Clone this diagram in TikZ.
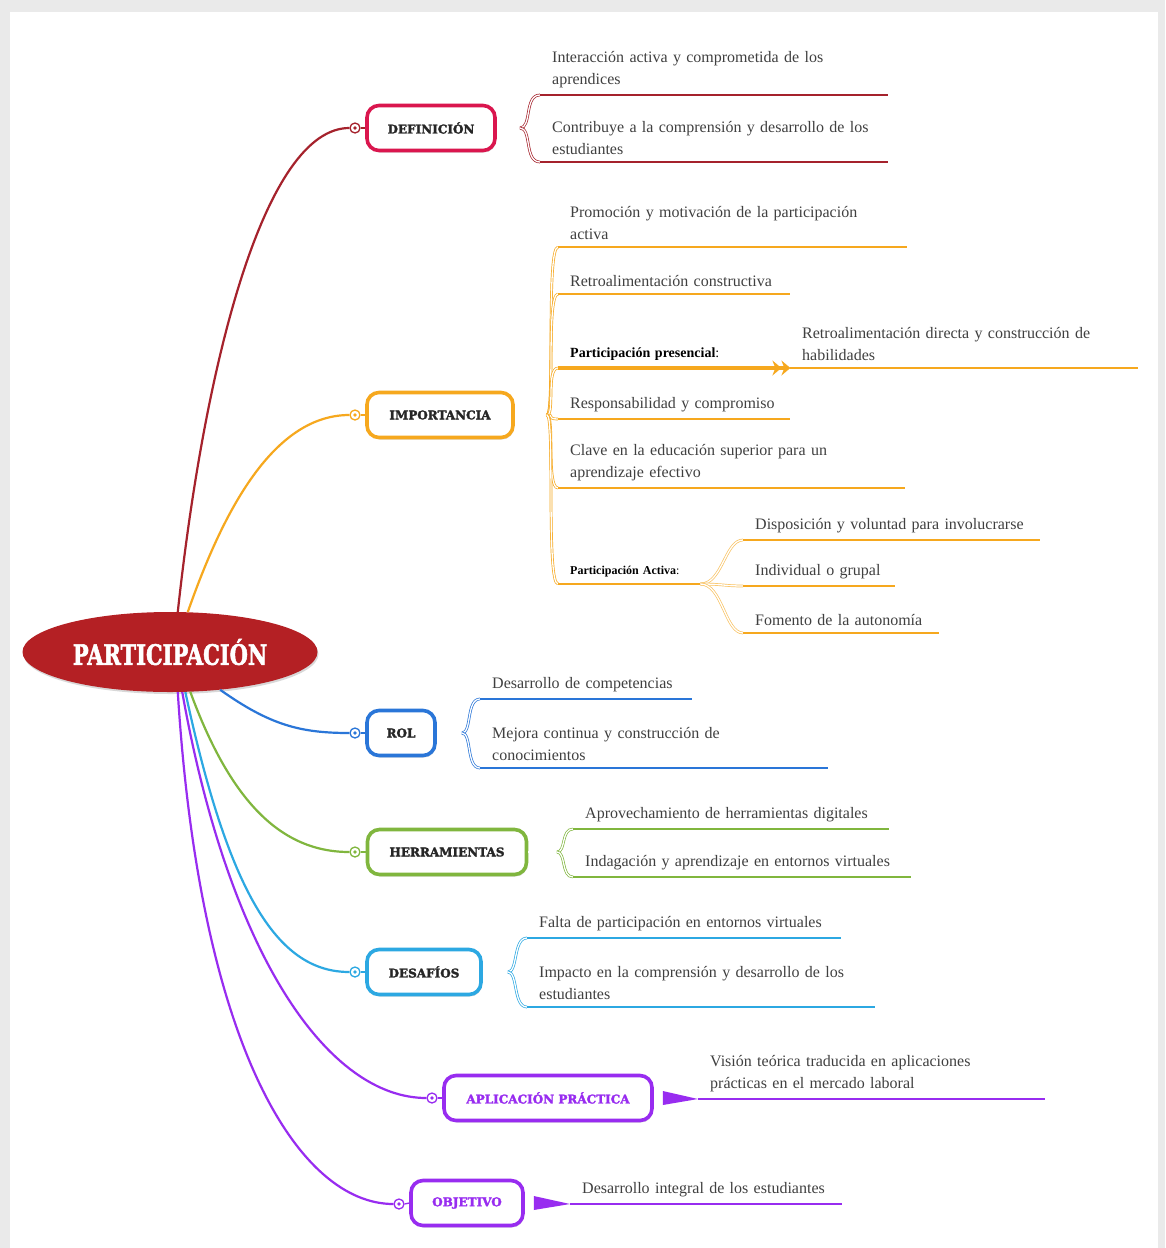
\documentclass[tikz,border=0pt]{standalone}
\usepackage{fontspec}
\setmainfont{Liberation Serif}
\newfontfamily\slabfont{DejaVu Serif}[BoldFeatures={FakeBold=2.2}]
\usetikzlibrary{shapes.geometric,shadows,arrows.meta,positioning}

\definecolor{hubred}{RGB}{180,32,36}
\definecolor{defred}{RGB}{165,34,44}
\definecolor{defpink}{RGB}{218,22,78}
\definecolor{imporange}{RGB}{246,168,30}
\definecolor{rolblue}{RGB}{42,118,216}
\definecolor{herrgreen}{RGB}{128,182,62}
\definecolor{desasky}{RGB}{44,168,226}
\definecolor{aplpurple}{RGB}{152,44,240}
\definecolor{framegray}{RGB}{234,234,234}

\begin{document}
\begin{tikzpicture}[x=1pt, y=-1pt,
    % central topic and first level boxes
    hub/.style={ellipse, fill=hubred, minimum width=295pt, minimum height=80pt, inner sep=0pt,
        text=white, font=\slabfont\bfseries\fontsize{20}{24}\selectfont,
        drop shadow={opacity=0.3, shadow xshift=1pt, shadow yshift=-2pt}},
    branch/.style={draw=#1, line width=3.6pt, rounded corners=12pt, fill=white,
        minimum height=45pt, inner xsep=6pt, text=black!85,
        font=\slabfont\bfseries\fontsize{12}{14}\selectfont,
        drop shadow={opacity=0.3, shadow xshift=1pt, shadow yshift=-2pt}},
    marker/.style={circle, draw=#1, fill=white, line width=1.3pt, minimum size=10pt, inner sep=0pt},
    % connectors
    trunk/.style={draw=#1, line width=2.2pt},
    twin/.style={draw=#1, line width=0.7pt, double=white, double distance=1.3pt},
    uline/.style={draw=#1, line width=2.4pt},
    % leaf texts, #1 = text width
    leaf/.style={anchor=south west, inner xsep=12pt, inner ysep=7pt, align=left,
        text=black!75, font=\fontsize{16}{22}\selectfont, text width=#1}
]
\useasboundingbox (0,0) rectangle (1165,1248);

% Frame
\fill[framegray] (0,0) rectangle (1165,1248);
\fill[white] (10,12) rectangle (1158,1248);

% Central topic
\node[hub] (hub) at (170,652) {\scalebox{1.05}[1.4]{PARTICIPACIÓN}};

% First level boxes
\node[branch=defpink, minimum width=128pt] (def) at (431,128) {DEFINICIÓN};
\node[branch=imporange, minimum width=146pt] (imp) at (440,415) {IMPORTANCIA};
\node[branch=rolblue, minimum width=68pt] (rol) at (401,733) {ROL};
\node[branch=herrgreen, minimum width=159pt] (herr) at (447,852) {HERRAMIENTAS};
\node[branch=desasky, minimum width=114pt] (desa) at (424,972) {DESAFÍOS};
\node[branch=aplpurple, text=aplpurple, minimum width=208pt] (apl) at (548,1098) {APLICACIÓN PRÁCTICA};
\node[branch=aplpurple, text=aplpurple, minimum width=112pt] (obj) at (467,1203) {OBJETIVO};

% Markers in front of the boxes
\node[marker=defred] (defdot) at (355,128) {};
\node[marker=imporange] (impdot) at (355,415) {};
\node[marker=rolblue] (roldot) at (355,733) {};
\node[marker=herrgreen] (herrdot) at (355,852) {};
\node[marker=desasky] (desadot) at (355,972) {};
\node[marker=aplpurple] (apldot) at (432,1098) {};
\node[marker=aplpurple] (objdot) at (399,1204) {};

% Trunks from the central topic
\draw[trunk=defred] (hub.79) .. controls (205,360) and (265,128) .. (defdot.west);
\draw[trunk=imporange] (hub.66) .. controls (220,520) and (270,415) .. (impdot.west);
\draw[trunk=rolblue] (hub.-37) .. controls (270,725) and (300,733) .. (roldot.west);
\draw[trunk=herrgreen] (hub.-63) .. controls (230,800) and (280,852) .. (herrdot.west);
\draw[trunk=desasky] (hub.-69) .. controls (230,900) and (280,972) .. (desadot.west);
\draw[trunk=aplpurple] (hub.-73) .. controls (230,960) and (330,1098) .. (apldot.west);
\draw[trunk=aplpurple] (hub.-79) .. controls (200,1050) and (300,1204) .. (objdot.west);
\foreach \m/\c in {defdot/defred, impdot/imporange, roldot/rolblue, herrdot/herrgreen,
    desadot/desasky, apldot/aplpurple, objdot/aplpurple}
  \fill[\c] (\m) circle (1.8);
\draw[line width=1.3pt, defred] (defdot.east) -- (def.west);
\draw[line width=1.3pt, imporange] (impdot.east) -- (imp.west);
\draw[line width=1.3pt, rolblue] (roldot.east) -- (rol.west);
\draw[line width=1.3pt, herrgreen] (herrdot.east) -- (herr.west);
\draw[line width=1.3pt, desasky] (desadot.east) -- (desa.west);
\draw[line width=1.3pt, aplpurple] (apldot.east) -- (apl.west);
\draw[line width=1.3pt, aplpurple] (objdot.east) -- (obj.west);

% DEFINICION
\coordinate (deffork) at (520,128);
\node[leaf=324pt] (d1) at (540,95) {Interacción activa y comprometida de los\\aprendices};
\node[leaf=324pt] (d2) at (540,162) {Contribuye a la comprensión y desarrollo de los\\estudiantes};
\draw[twin=defred] (def.east) -- (deffork);
\foreach \n in {d1,d2} {
  \draw[twin=defred] (deffork) .. controls +(12,0) and +(-16,0) .. (\n.south west);
  \draw[uline=defred] (\n.south west) -- (\n.south east);
}

% IMPORTANCIA
\coordinate (impfork) at (547,415);
\node[leaf=325pt] (i1) at (558,247) {Promoción y motivación de la participación\\activa};
\node[leaf=208pt] (i2) at (558,294) {Retroalimentación constructiva};
\node[leaf=208pt, font=\fontsize{14}{18}\selectfont, text=black] (i3) at (558,368) {\textbf{Participación presencial}:};
\node[leaf=324pt] (i3b) at (790,368) {Retroalimentación directa y construcción de\\habilidades};
\node[leaf=208pt] (i4) at (558,419) {Responsabilidad y compromiso};
\node[leaf=323pt] (i5) at (558,488) {Clave en la educación superior para un\\aprendizaje efectivo};
\node[leaf=118pt, font=\fontsize{12}{15}\selectfont, text=black] (i6) at (558,584) {\textbf{Participación Activa}:};
\draw[twin=imporange] (imp.east) -- (impfork);
\foreach \n in {i1,i2,i3,i4,i5,i6}
  \draw[twin=imporange] (impfork) .. controls +(8,0) and +(-12,0) .. (\n.south west);
\foreach \n in {i1,i2,i4,i5,i6,i3b}
  \draw[uline=imporange] (\n.south west) -- (\n.south east);
\draw[imporange, line width=3.4pt,
    -{Stealth[length=9pt,width=15pt,inset=3pt] Stealth[length=9pt,width=15pt,inset=3pt]}]
  (i3.south west) -- (i3.south east);

% Participacion activa
\node[leaf=273pt] (a1) at (743,540) {Disposición y voluntad para involucrarse};
\node[leaf=128pt] (a2) at (743,586) {Individual o grupal};
\node[leaf=172pt] (a3) at (743,633) {Fomento de la autonomía};
\foreach \n in {a1,a2,a3} {
  \draw[twin=imporange!70] (i6.south east) .. controls +(22,0) and +(-18,0) .. (\n.south west);
  \draw[uline=imporange] (\n.south west) -- (\n.south east);
}

% ROL
\coordinate (rolfork) at (462,733);
\node[leaf=188pt] (r1) at (480,699) {Desarrollo de competencias};
\node[leaf=324pt] (r2) at (480,768) {Mejora continua y construcción de\\conocimientos};
\draw[twin=rolblue] (rol.east) -- (rolfork);
\foreach \n in {r1,r2} {
  \draw[twin=rolblue] (rolfork) .. controls +(10,0) and +(-14,0) .. (\n.south west);
  \draw[uline=rolblue] (\n.south west) -- (\n.south east);
}

% HERRAMIENTAS
\coordinate (herrfork) at (557,852);
\node[leaf=292pt] (h1) at (573,829) {Aprovechamiento de herramientas digitales};
\node[leaf=314pt] (h2) at (573,877) {Indagación y aprendizaje en entornos virtuales};
\draw[twin=herrgreen] (herr.east) -- (herrfork);
\foreach \n in {h1,h2} {
  \draw[twin=herrgreen] (herrfork) .. controls +(9,0) and +(-12,0) .. (\n.south west);
  \draw[uline=herrgreen] (\n.south west) -- (\n.south east);
}

% DESAFIOS
\coordinate (desafork) at (508,972);
\node[leaf=290pt] (s1) at (527,938) {Falta de participación en entornos virtuales};
\node[leaf=324pt] (s2) at (527,1007) {Impacto en la comprensión y desarrollo de los\\estudiantes};
\draw[twin=desasky] (desa.east) -- (desafork);
\foreach \n in {s1,s2} {
  \draw[twin=desasky] (desafork) .. controls +(10,0) and +(-14,0) .. (\n.south west);
  \draw[uline=desasky] (\n.south west) -- (\n.south east);
}

% APLICACION PRACTICA
\node[leaf=323pt] (p1) at (698,1099) {Visión teórica traducida en aplicaciones\\prácticas en el mercado laboral};
\fill[aplpurple] ([shift={(9,-7)}]apl.east) -- (p1.south west) -- ([shift={(9,7)}]apl.east) -- cycle;
\draw[uline=aplpurple] (p1.south west) -- (p1.south east);

% OBJETIVO
\node[leaf=248pt] (o1) at (570,1204) {Desarrollo integral de los estudiantes};
\fill[aplpurple] ([shift={(9,-7)}]obj.east) -- (o1.south west) -- ([shift={(9,7)}]obj.east) -- cycle;
\draw[uline=aplpurple] (o1.south west) -- (o1.south east);

\end{tikzpicture}
\end{document}
